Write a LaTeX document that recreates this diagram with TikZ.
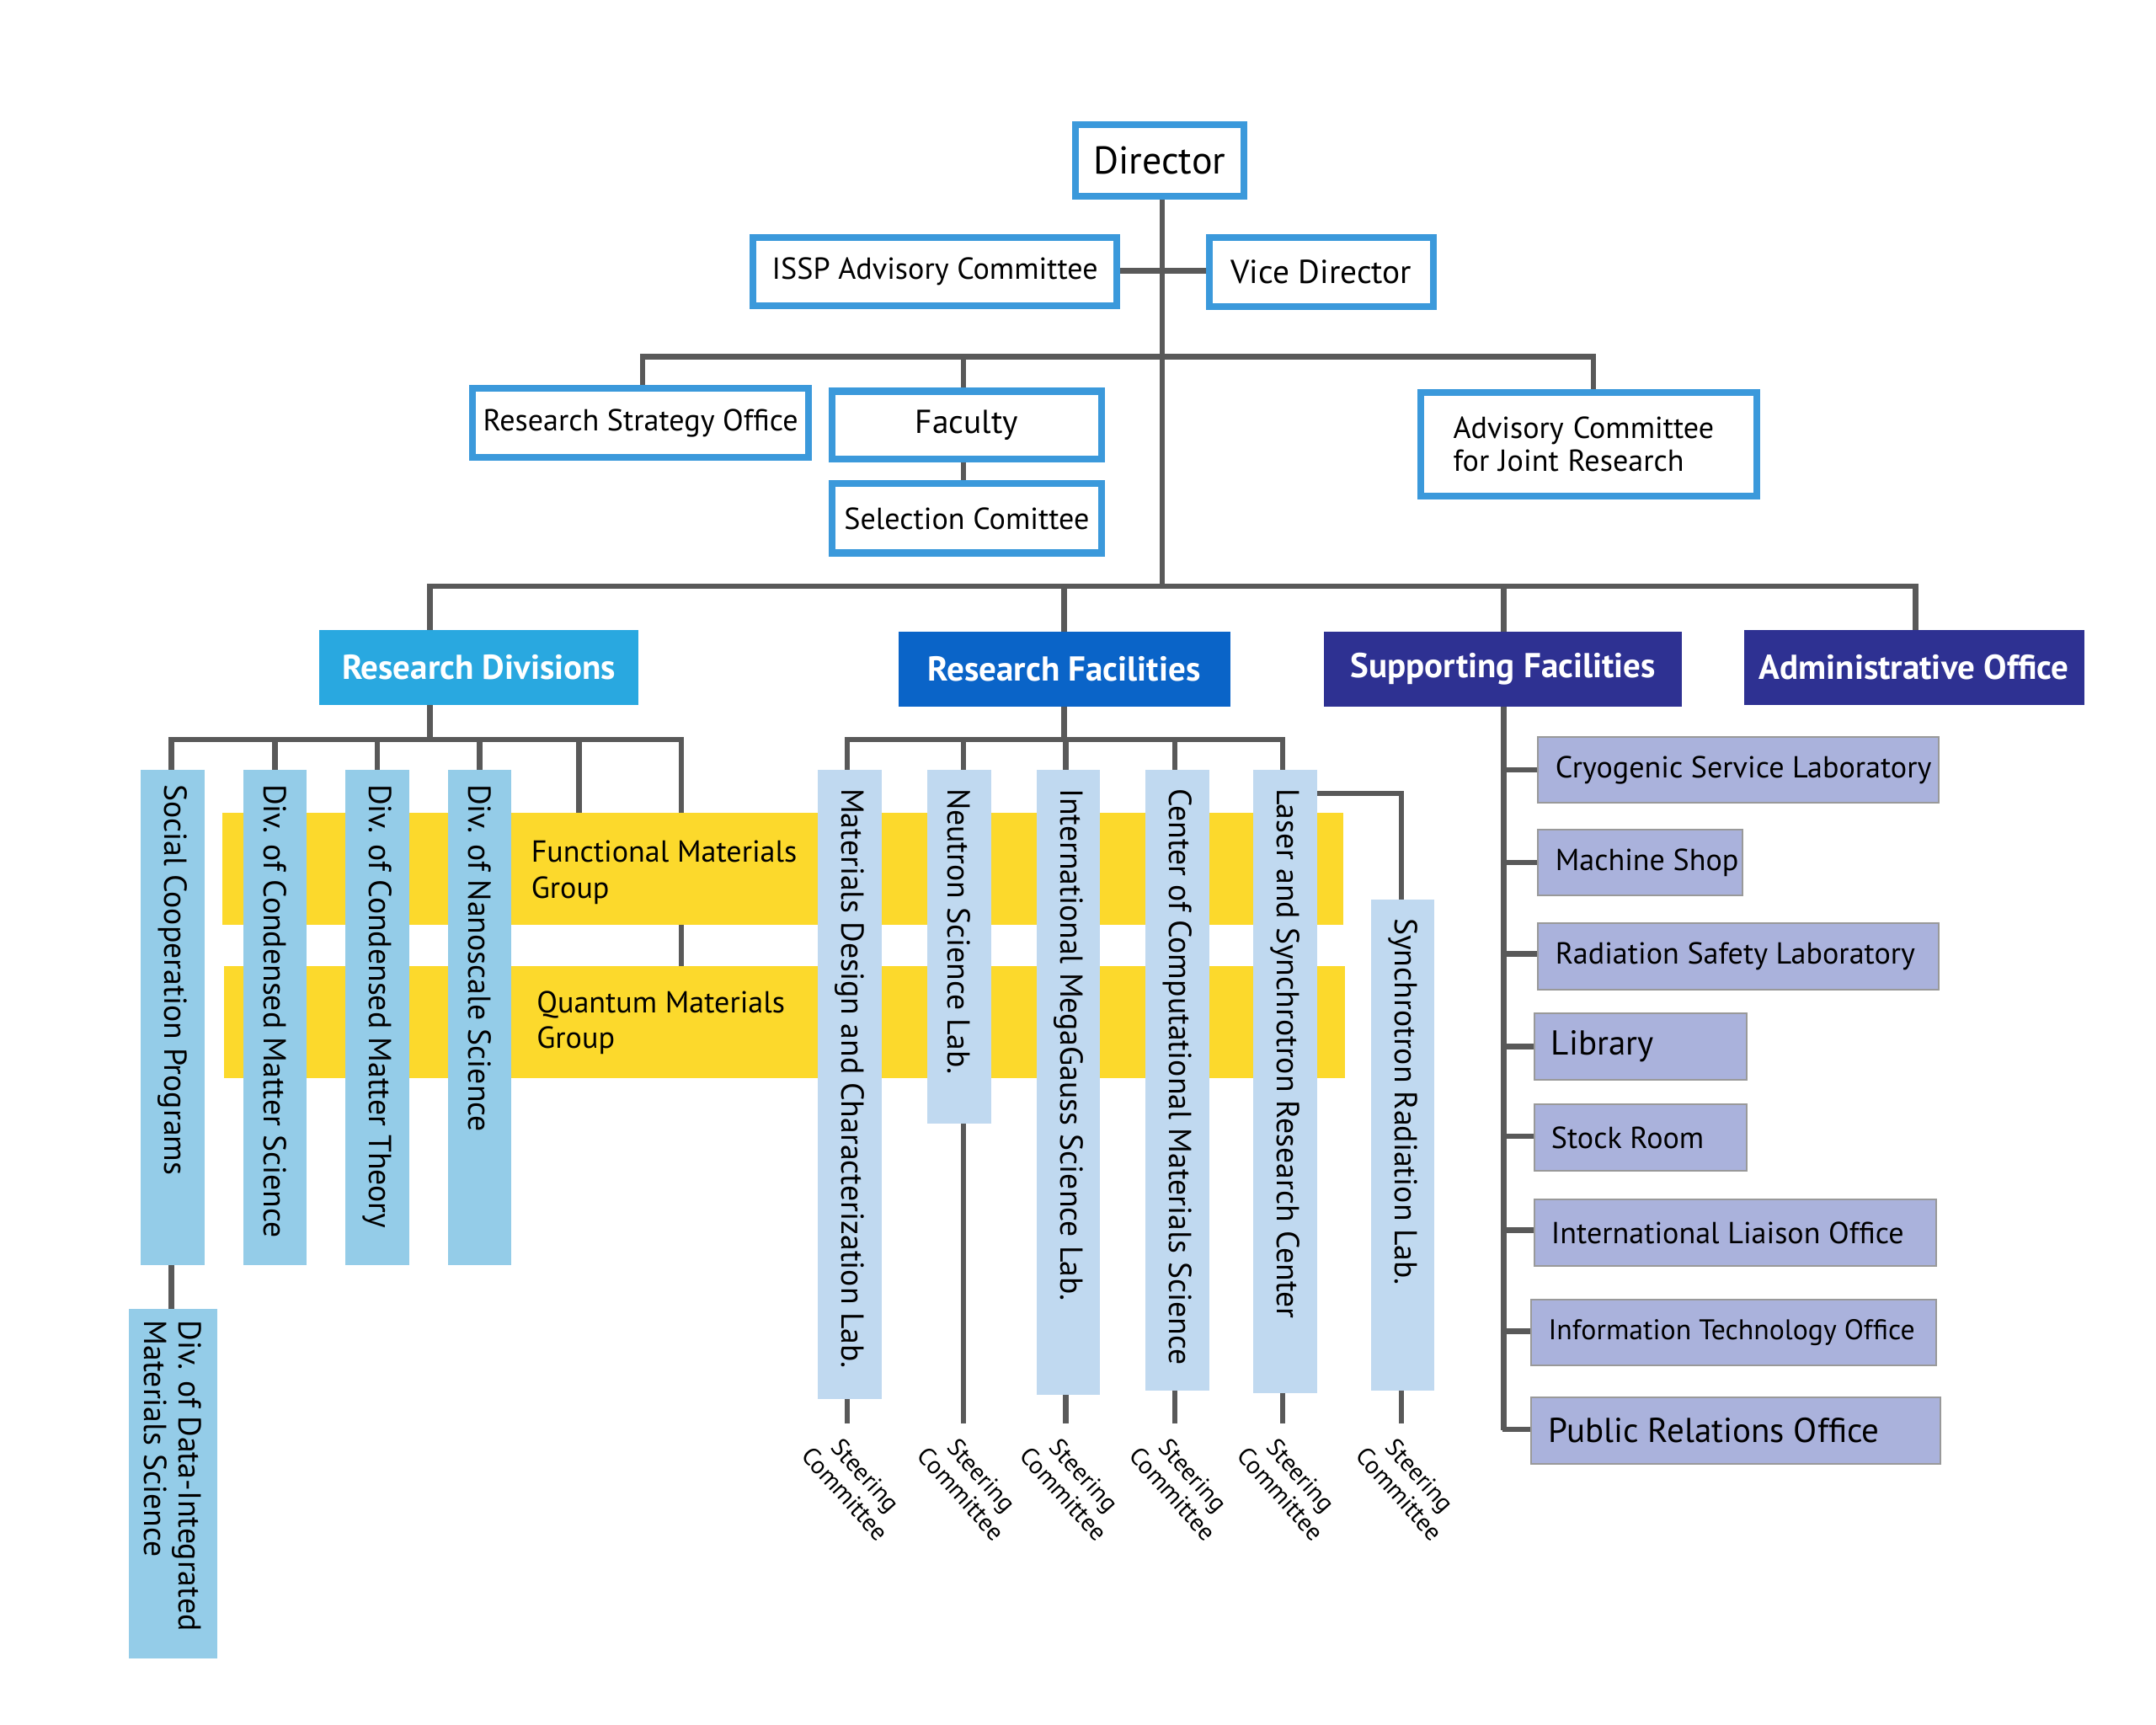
\documentclass[tikz,border=0pt]{standalone}
\usepackage{fontspec}
\setmainfont{PT Sans}
\begin{document}
\begin{tikzpicture}[x=0.5pt,y=-0.5pt,
 ln/.style={draw=black!65,line width=2pt},
 ob/.style={draw=cyan!70!blue!80,line width=2.5pt,fill=white,inner sep=0},
 hd/.style={inner sep=0,text=white,font=\bfseries\fontsize{12.5}{14}\selectfont},
 vt/.style={rotate=-90,anchor=west,inner sep=0,font=\fontsize{11.5}{13}\selectfont,align=left},
 sb/.style={draw=black!40,line width=0.6pt,fill=sup,inner sep=0},
 st/.style={font=\fontsize{9}{10}\selectfont,align=center,rotate=-48,inner sep=0},
 lab/.style={inner sep=0,font=\fontsize{11}{13}\selectfont,align=left}]
\definecolor{rd}{HTML}{29A8E0}\definecolor{rf}{HTML}{0A64C8}\definecolor{sf}{HTML}{2E3192}
\definecolor{lb1}{HTML}{94CCE8}\definecolor{lb2}{HTML}{C0D9F0}\definecolor{sup}{HTML}{AAB2DC}
\definecolor{yl}{HTML}{FCD92C}
\useasboundingbox (0,0) rectangle (1560,1248);
% lines top
\draw[ln] (841,142)--(841,424);
\draw[ln] (808,196)--(875,196);
\draw[ln] (465,281)--(465,258)--(1153,258)--(1153,284);
\draw[ln] (697,258)--(697,350);
\draw[ln] (311,456)--(311,424)--(1386,424)--(1386,456);
\draw[ln] (770,424)--(770,535);\draw[ln] (1088,424)--(1088,1035);
\draw[ln] (311,510)--(311,535);
\draw[ln] (124,947)--(124,535)--(493,535)--(493,588);
\foreach \x in {199,273,347,419}{\draw[ln] (\x,535)--(\x,588);}
\draw[ln] (493,669)--(493,699);
\draw[ln] (613,557)--(613,535)--(928,535)--(928,557);
\foreach \x in {697,771,850}{\draw[ln] (\x,535)--(\x,557);}
\draw[ln] (953,574)--(1014,574)--(1014,651);
\foreach \x/\y in {613/1012,697/813,771/1009,850/1006,928/1008,1014/1006}{\draw[ln] (\x,\y)--(\x,1030);}
\foreach \y/\r in {557/1113,624/1113,690/1113,757/1110,822/1110,890/1110,963/1108,1034/1108}{\draw[ln] (1087,\y)--(\r,\y);}
% boxes top (sizes in pt = units/2)
\node[ob,minimum width=61pt,minimum height=26pt] (dir) at (839,116) {\fontsize{14}{16}\selectfont Director};
\node[ob,minimum width=131.5pt,minimum height=24.5pt] (issp) at (676.5,196.5) {\fontsize{11}{13}\selectfont ISSP Advisory Committee};
\node[ob,minimum width=81pt,minimum height=25pt] (vice) at (956,197) {\fontsize{12}{14}\selectfont Vice Director};
\node[ob,minimum width=121.5pt,minimum height=25pt] (rso) at (463.5,306) {\fontsize{11}{13}\selectfont Research Strategy Office};
\node[ob,minimum width=97.5pt,minimum height=24.5pt] (fac) at (699.5,307.5) {\fontsize{12}{14}\selectfont Faculty};
\node[ob,minimum width=97.5pt,minimum height=25pt] (sel) at (699.5,375) {\fontsize{11}{13}\selectfont Selection Comittee};
\node[ob,minimum width=121.5pt,minimum height=37.5pt,align=left,text width=98pt] (acj) at (1149.5,321.5) {\fontsize{11}{14}\selectfont Advisory Committee\\for Joint Research};
% headers
\node[hd,fill=rd,minimum width=115.5pt,minimum height=27pt] (rdiv) at (346.5,483) {Research Divisions};
\node[hd,fill=rf,minimum width=120pt,minimum height=27pt] (rfac) at (770,484) {Research Facilities};
\node[hd,fill=sf,minimum width=129.5pt,minimum height=27pt] (sfac) at (1087.5,484) {Supporting Facilities};
\node[hd,fill=sf,minimum width=123pt,minimum height=27pt] (adm) at (1385,483) {Administrative Office};
% yellow bands
\fill[yl] (161,588) rectangle (972,669);
\fill[yl] (162,699) rectangle (973,780);
\node[lab,anchor=west] (fg) at (384,631) {Functional Materials\\Group};
\node[lab,anchor=west] (qg) at (388,740) {Quantum Materials\\Group};
% research divisions
\foreach \x/\t/\n in {125/Social Cooperation Programs/a,199/Div. of Condensed Matter Science/b,273/Div. of Condensed Matter Theory/c,347/Div. of Nanoscale Science/d}{
 \fill[lb1] (\x-23,557) rectangle (\x+23,915);
 \node[vt] (\n) at (\x,567) {\t};}
\fill[lb1] (93,947) rectangle (157,1200);
\node[vt,font=\fontsize{11.5}{12.5}\selectfont] (di) at (125,955) {Div. of Data-Integrated\\Materials Science};
% research facilities
\foreach \x/\b/\t/\n in {615/1012/Materials Design and Characterization Lab./e,694/813/Neutron Science Lab./f,773/1009/International MegaGauss Science Lab./g,852/1006/Center of Computational Materials Science/h,930/1008/Laser and Synchrotron Research Center/i}{
 \fill[lb2] (\x-23,557) rectangle (\x+23,\b);
 \node[vt] (\n) at (\x,570) {\t};}
\fill[lb2] (992,651) rectangle (1038,1006);
\node[vt] (j) at (1015,664) {Synchrotron Radiation Lab.};
\foreach \x/\n in {613/s1,697/s2,771/s3,850/s4,928/s5,1014/s6}{\node[st] (\n) at (\x+6,1074) {Steering\\Committee};}
% supporting
\foreach \l/\r/\y/\t/\n in {1113/1403/557/Cryogenic Service Laboratory/p1,1113/1261/624/Machine Shop/p2,1113/1403/692/Radiation Safety Laboratory/p3,1110/1264/757/{\fontsize{12.5}{14}\selectfont Library}/p4,1110/1264/823/Stock Room/p5,1110/1401/892/International Liaison Office/p6,1108/1401/964/{\fontsize{10.3}{12}\selectfont Information Technology Office}/p7,1108/1404/1035/{\fontsize{12.5}{14}\selectfont Public Relations Office}/p8}{
 \draw[sb] (\l,\y-24) rectangle (\r,\y+24);
 \node[lab,anchor=west] (\n) at (\l+12,\y) {\t};}
\end{tikzpicture}
\end{document}
